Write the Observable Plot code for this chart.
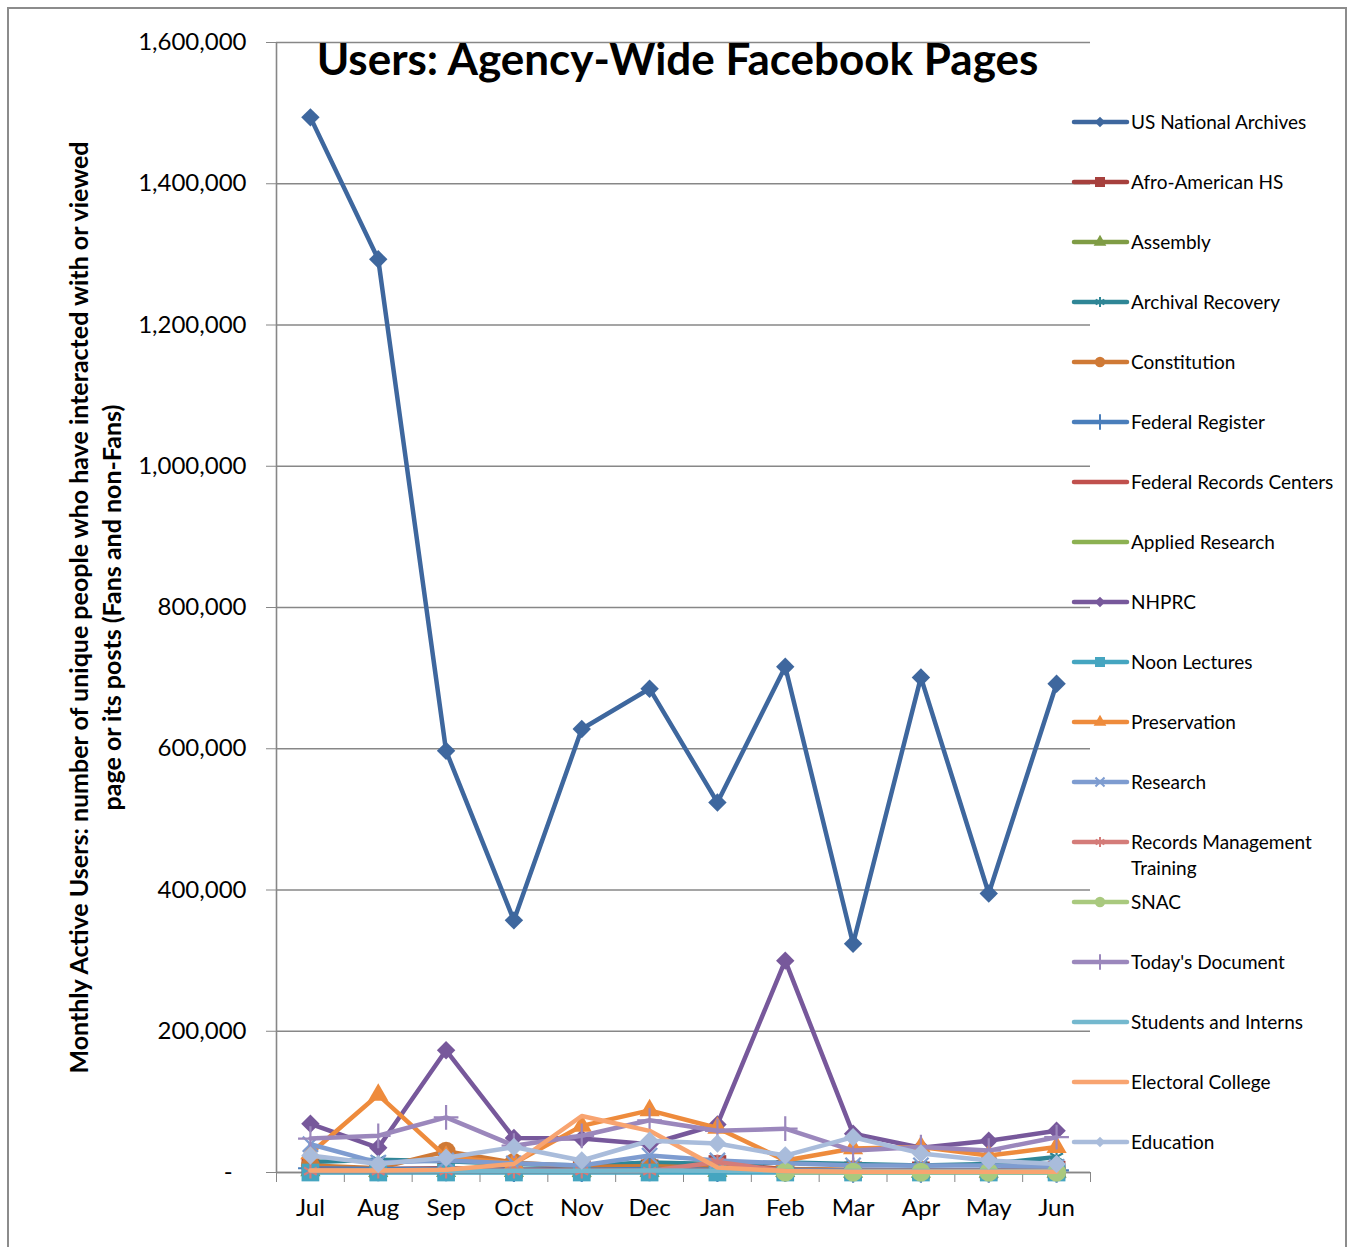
<!DOCTYPE html>
<html><head><meta charset="utf-8">
<script src="https://cdn.jsdelivr.net/npm/d3@7"></script>
<script src="https://cdn.jsdelivr.net/npm/@observablehq/plot@0.6"></script>
<style>
html,body{margin:0;padding:0;background:#fff;overflow:hidden;}
#wrap{position:relative;width:1354px;height:1247px;font-family:Lato,sans-serif;}
#border{position:absolute;left:7px;top:7px;width:1340px;height:1270px;border:2px solid #8c8c8c;box-sizing:border-box;}
#chart{position:absolute;left:0;top:0;}
#legend{position:absolute;left:1060px;top:90px;font-family:Lato,sans-serif;}
</style></head><body>
<div id="wrap"><div id="border"></div><div id="chart"></div><svg id="legend" width="294" height="1080"></svg></div>
<script>
// ---- data ----
const months = ["Jul","Aug","Sep","Oct","Nov","Dec","Jan","Feb","Mar","Apr","May","Jun"];
const seriesNames = ["US National Archives","Afro-American HS","Assembly","Archival Recovery","Constitution","Federal Register","Federal Records Centers","Applied Research","NHPRC","Noon Lectures","Preservation","Research","Records Management Training","SNAC","Today's Document","Students and Interns","Electoral College","Education"];

const usNationalArchives    = [1494000,1293000,597000,357000,628000,685000,524000,716000,324000,701000,395000,692000];
const afroAmericanHS        = [8000,5000,6000,4000,5000,6000,12000,5000,3000,3000,3000,4000];
const assembly              = [3000,2000,2000,2000,2000,2000,2000,2000,1000,1000,1000,1000];
const archivalRecovery      = [15000,18000,16000,12000,10000,14000,12000,14000,12000,10000,12000,22000];
const constitution          = [10000,6000,30000,14000,8000,9000,7000,5000,4000,3000,3000,3000];
const federalRegister       = [6000,5000,5000,4000,4000,5000,4000,4000,3000,3000,3000,3000];
const federalRecordsCenters = [4000,3000,3000,3000,3000,3000,3000,2000,2000,2000,2000,2000];
const appliedResearch       = [1000,1000,1000,1000,1000,1000,1000,1000,1000,1000,1000,1000];
const nhprc                 = [69000,35000,173000,49000,48000,40000,68000,300000,55000,35000,45000,59000];
const noonLectures          = [0,0,0,0,0,0,0,0,0,0,0,0];
const preservation          = [27000,110000,22000,13000,66000,88000,63000,17000,34000,36000,24000,36000];
const research              = [40000,14000,17000,13000,10000,24000,17000,13000,10000,10000,10000,8000];
const recordsMgmtTraining   = [2000,2000,2000,2000,2000,2000,15000,2000,2000,2000,2000,2000];
const snac                  = [null,null,null,null,null,null,null,500,500,500,500,500];
const todaysDocument        = [48000,52000,78000,38000,52000,74000,59000,62000,31000,36000,31000,50000];
const studentsInterns       = [3000,3000,2500,2500,2500,3000,2500,2000,2000,2000,2000,2000];
const electoralCollege      = [3000,3000,4000,12000,80000,59000,7000,2000,1000,1000,1000,1000];
const education             = [24000,12000,21000,36000,17000,45000,41000,24000,50000,27000,17000,12000];

const seriesValues = [usNationalArchives,afroAmericanHS,assembly,archivalRecovery,constitution,federalRegister,federalRecordsCenters,appliedResearch,nhprc,noonLectures,preservation,research,recordsMgmtTraining,snac,todaysDocument,studentsInterns,electoralCollege,education];

const yTicks = [0,200000,400000,600000,800000,1000000,1200000,1400000,1600000];
const titleText = "Users: Agency-Wide Facebook Pages";
const yLabelLines = ["Monthly Active Users: number of unique people who have interacted with or viewed","page or its posts (Fans and non-Fans)"];

// ---- styles ----
const seriesColors = ["#3E679E","#A6403D","#7F9C45","#2F8696","#CF7935","#4A7EBB","#C0504D","#8CB152","#77589B","#45A5C0","#EE8B3C","#7E9CD0","#D47C79","#A9C97E","#9B87BC","#74B8CE","#F8A470","#A9BCDB"];
const seriesSymbols = ["diamond2","square","triangle","asterisk","circle","plus",null,null,"diamond2","square","triangle","times","asterisk","circle","plus",null,null,"diamond2"];
const symbolR = {diamond2:8.3, square:10, triangle:7.5, circle:9.5, asterisk:7, plus:8, times:7};
const strokeSymbols = new Set(["asterisk","plus","times"]);

const W = 1354, H = 1247, mL = 276, mR = 264, mT = 42, mB = 75;
const bw = (W - mL - mR) / months.length;
const gridColor = "#878787";

const rows = seriesNames.map((name, si) =>
  months.map((m, mi) => ({series: name, month: m, value: seriesValues[si][mi]})).filter(d => d.value != null));

const marks = [
  Plot.gridY({ticks: yTicks, stroke: gridColor, strokeOpacity: 1, strokeWidth: 1.6}),
  Plot.ruleY([0], {stroke: gridColor, strokeWidth: 1.6}),
  Plot.ruleX([months[0]], {dx: -bw / 2, stroke: gridColor, strokeWidth: 1.6}),
  Plot.axisY({ticks: yTicks, tickSize: 10, tickPadding: 20, fontSize: 24, stroke: gridColor, fill: "black", label: null,
    tickFormat: d => d === 0 ? "-\u2007" : d3.format(",")(d)}),
  Plot.axisX({ticks: months, tickSize: 10, tickFormat: () => "", dx: -bw / 2, stroke: gridColor, label: null}),
  Plot.axisX({ticks: [months[months.length - 1]], tickSize: 10, tickFormat: () => "", dx: bw / 2, stroke: gridColor, label: null}),
  Plot.axisX({tickSize: 0, tickPadding: 26, fontSize: 24, fill: "black", label: null})
];

seriesNames.forEach((name, si) => {
  const color = seriesColors[si];
  marks.push(Plot.line(rows[si], {x: "month", y: "value", stroke: color, strokeWidth: 4.5, strokeLinejoin: "round", strokeLinecap: "round"}));
  const sym = seriesSymbols[si];
  if (sym) {
    const isStroke = strokeSymbols.has(sym);
    marks.push(Plot.dot(rows[si], {x: "month", y: "value", symbol: sym, r: symbolR[sym],
      fill: isStroke ? "none" : color, stroke: isStroke ? color : "none", strokeWidth: 2.2}));
  }
});

marks.push(Plot.text([titleText], {text: d => d, frameAnchor: "top", lineAnchor: "top", textAnchor: "middle", dx: -6, dy: 1, fontSize: 44, fontWeight: "bold", fill: "black"}));
marks.push(Plot.text([yLabelLines.join("\n")], {text: d => d, frameAnchor: "left", textAnchor: "middle", dx: -183, rotate: -90, fontSize: 25, fontWeight: 700, lineHeight: 1.32, fill: "black"}));

const chart = Plot.plot({
  width: W, height: H,
  marginLeft: mL, marginRight: mR, marginTop: mT, marginBottom: mB,
  style: {fontFamily: "Lato, sans-serif", background: "transparent", overflow: "visible"},
  x: {type: "band", domain: months, padding: 0, round: false},
  y: {domain: [0, 1600000]},
  marks
});
document.getElementById("chart").appendChild(chart);

// ---- legend ----
const symbolMap = {diamond2: d3.symbolDiamond2, square: d3.symbolSquare, triangle: d3.symbolTriangle, circle: d3.symbolCircle, asterisk: d3.symbolAsterisk, plus: d3.symbolPlus, times: d3.symbolTimes};
const legendSize = {diamond2: 70, square: 100, triangle: 70, circle: 85, asterisk: 70, plus: 80, times: 55};
const leg = d3.select("#legend");
const legTop = 90, rowStart = 122, rowStep = 60;
seriesNames.forEach((name, i) => {
  const g = leg.append("g").attr("transform", `translate(0,${rowStart + rowStep * i - legTop})`);
  const color = seriesColors[i];
  g.append("line").attr("x1", 14).attr("x2", 67).attr("y1", 0).attr("y2", 0)
    .attr("stroke", color).attr("stroke-width", 4.5).attr("stroke-linecap", "round");
  const sym = seriesSymbols[i];
  if (sym) {
    const isStroke = strokeSymbols.has(sym);
    g.append("path").attr("transform", "translate(40,0)")
      .attr("d", d3.symbol(symbolMap[sym], legendSize[sym])())
      .attr("fill", isStroke ? "none" : color).attr("stroke", isStroke ? color : "none").attr("stroke-width", 2);
  }
  const t = g.append("text").attr("x", 71).attr("y", 0).attr("dy", "0.35em")
    .attr("font-size", 19).attr("fill", "black").text(name);
  if (t.node().getComputedTextLength() > 222) {
    const words = name.split(" ");
    const last = words.pop();
    t.text(null);
    t.append("tspan").attr("x", 71).attr("dy", "0.35em").text(words.join(" "));
    t.append("tspan").attr("x", 71).attr("dy", "1.37em").text(last);
  }
});
</script>
</body></html>
